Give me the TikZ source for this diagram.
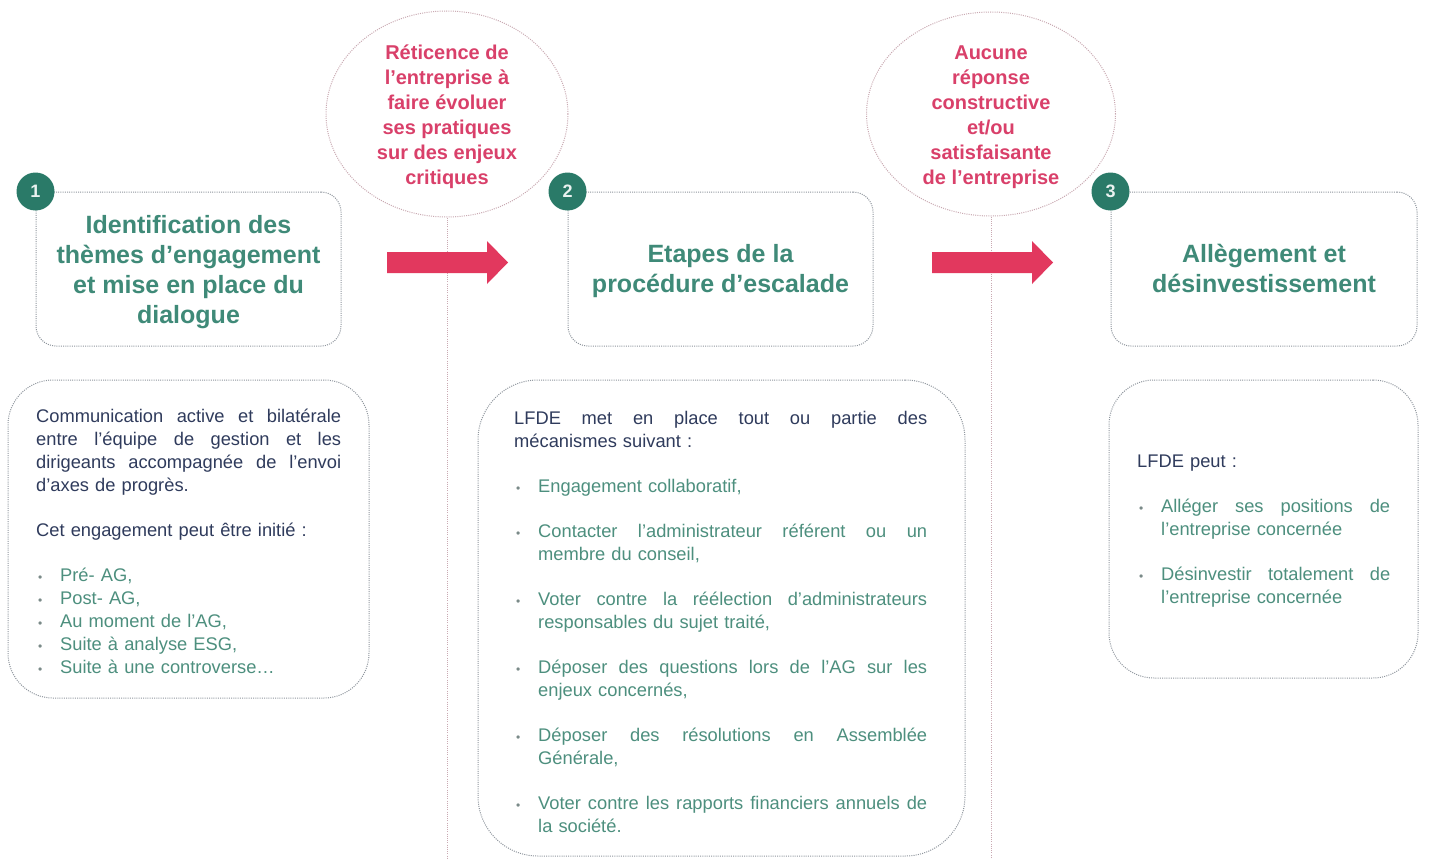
\documentclass[tikz,border=0pt]{standalone}
\usepackage{fontspec}
\setmainfont{Liberation Sans}
\usetikzlibrary{shapes.geometric}
\definecolor{tealT}{HTML}{3F8A78}
\definecolor{tealC}{HTML}{2A7A68}
\definecolor{navyT}{HTML}{2F3B5C}
\definecolor{greenT}{HTML}{4D8F7E}
\definecolor{pinkT}{HTML}{D9406A}
\definecolor{arrowC}{HTML}{E2385E}
\definecolor{dotG}{HTML}{8E959D}
\definecolor{dotP}{HTML}{C9A9B2}
\definecolor{bulG}{HTML}{7A8A88}
\newcommand\myBullet{{\color{bulG}\fontsize{12}{12}\selectfont •}}
\newcommand\mySp{\spaceskip=.28em plus 1fil minus .08em\relax}
\newcommand\myJL[1]{\hbox to\hsize{\mySp#1}}
\newcommand\myLL[1]{\hbox to\hsize{#1\hfil}}
\newcommand\myBJ[1]{\hbox to\hsize{\color{greenT}\hbox to 24pt{\hskip2pt\myBullet\hfil}\mySp#1}}
\newcommand\myBL[1]{\hbox to\hsize{\color{greenT}\hbox to 24pt{\hskip2pt\myBullet\hfil}#1\hfil}}
\newcommand\myIL[1]{\hbox to\hsize{\color{greenT}\hskip24pt#1\hfil}}
\newcommand\myGap{\vskip22pt}
\begin{document}
\begin{tikzpicture}[x=1pt,y=-1pt,
  dotline/.style={line width=1pt, dash pattern=on 1pt off 1.2pt},
  titlebox/.style={draw=dotG, dotline, rounded corners=20pt, minimum width=305pt, minimum height=154pt, inner sep=0pt},
  titletext/.style={align=center, text=tealT, font=\fontsize{25}{30}\selectfont\bfseries, inner sep=0pt},
  bodybox/.style={draw=dotG, dotline, inner sep=0pt},
  numc/.style={circle, fill=tealC, minimum size=38pt, inner sep=0pt, text=white!90!tealC,
    font=\fontsize{18}{18}\selectfont\bfseries},
  ell/.style={draw=dotP, dotline, ellipse, inner sep=0pt},
  elltext/.style={align=center, text=pinkT, font=\fontsize{20}{25}\selectfont\bfseries, inner sep=0pt},
  vline/.style={draw=dotP, dotline},
  bodytext/.style={anchor=base west, inner sep=0pt, text=navyT, font=\fontsize{18.3}{23}\selectfont},
  arrowshape/.style={fill=arrowC}
]
\fill[white] (0,0) rectangle (1430,859);
\useasboundingbox (0,0) rectangle (1430,859);

% ellipses and vertical dotted lines
\node[ell, minimum width=242pt, minimum height=206pt] (e1) at (447,114) {};
\node[ell, minimum width=249pt, minimum height=204pt] (e2) at (991,114) {};
\coordinate (e1b) at (447,859);
\coordinate (e2b) at (991,859);
\draw[vline] (e1.south) -- (e1b);
\draw[vline] (e2.south) -- (e2b);
\node[elltext] (e1t) at (447,117) {Réticence de\\l’entreprise à\\faire évoluer\\ses pratiques\\sur des enjeux\\critiques};
\node[elltext] (e2t) at (991,117) {Aucune\\réponse\\constructive\\et/ou\\satisfaisante\\de l’entreprise};

% arrows
\fill[arrowshape] (387,252) -- (487,252) -- (487,241) -- (508,262.5) -- (487,284) -- (487,273) -- (387,273) -- cycle;
\fill[arrowshape] (932,252) -- (1032,252) -- (1032,241) -- (1053,262.5) -- (1032,284) -- (1032,273) -- (932,273) -- cycle;

% title boxes
\node[titlebox] (t1) at (188.5,269) {};
\node[titlebox] (t2) at (720.5,269) {};
\node[titlebox, minimum width=306pt] (t3) at (1264,269) {};
\node[titletext] (t1t) at (188.5,272) {Identification des\\thèmes d’engagement\\et mise en place du\\dialogue};
\node[titletext] (t2t) at (720.5,271) {Etapes de la\\procédure d’escalade};
\node[titletext] (t3t) at (1264,268) {Allègement et\\désinvestissement};
\node[numc] (n1) at (t1.north west) {1};
\node[numc] (n2) at (t2.north west) {2};
\node[numc] (n3) at (t3.north west) {3};

% body boxes
\node[bodybox, rounded corners=45pt, minimum width=361pt, minimum height=318pt] (b1) at (188.5,539) {};
\node[bodybox, rounded corners=60pt, minimum width=487pt, minimum height=476pt] (b2) at (721.5,618) {};
\node[bodybox, rounded corners=45pt, minimum width=309pt, minimum height=298pt] (b3) at (1263.5,529) {};

\node[bodytext, text width=305pt] (b1t) at (36,422) {%
\myJL{Communication active et bilatérale}
\myJL{entre l’équipe de gestion et les}
\myJL{dirigeants accompagnée de l’envoi}
\myLL{d’axes de progrès.}
\myGap
\myLL{Cet engagement peut être initié :}
\myGap
\myBL{Pré- AG,}
\myBL{Post- AG,}
\myBL{Au moment de l’AG,}
\myBL{Suite à analyse ESG,}
\myBL{Suite à une controverse…}};

\node[bodytext, text width=413pt] (b2t) at (514,424) {%
\myJL{LFDE met en place tout ou partie des}
\myLL{mécanismes suivant :}
\myGap
\myBL{Engagement collaboratif,}
\myGap
\myBJ{Contacter l’administrateur référent ou un}
\myIL{membre du conseil,}
\myGap
\myBJ{Voter contre la réélection d’administrateurs}
\myIL{responsables du sujet traité,}
\myGap
\myBJ{Déposer des questions lors de l’AG sur les}
\myIL{enjeux concernés,}
\myGap
\myBJ{Déposer des résolutions en Assemblée}
\myIL{Générale,}
\myGap
\myBJ{Voter contre les rapports financiers annuels de}
\myIL{la société.}};

\node[bodytext, text width=253pt] (b3t) at (1137,467) {%
\myLL{LFDE peut :}
\myGap
\myBJ{Alléger ses positions de}
\myIL{l’entreprise concernée}
\myGap
\myBJ{Désinvestir totalement de}
\myIL{l’entreprise concernée}};
\end{tikzpicture}
\end{document}
